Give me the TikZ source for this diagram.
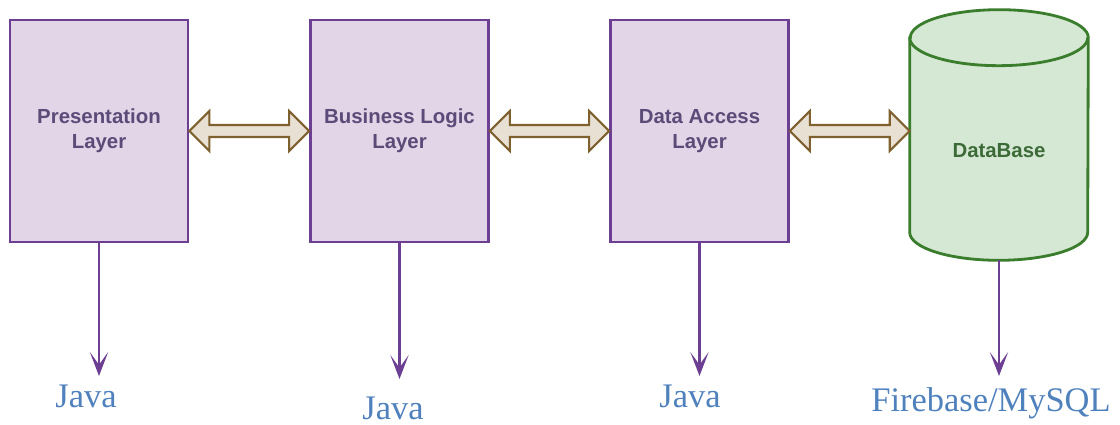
\documentclass[tikz,border=0pt]{standalone}
\usepackage{fontspec}
\setmainfont{Liberation Serif}
\setsansfont{Liberation Sans}
\usepackage{tikz}
\usetikzlibrary{arrows.meta}
\usetikzlibrary{calc}

\definecolor{layerfill}{HTML}{E1D5E7}
\definecolor{layerline}{HTML}{6C3F92}
\definecolor{layertext}{HTML}{5E4A78}
\definecolor{dbfill}{HTML}{D5E8D4}
\definecolor{dbline}{HTML}{3A7D2C}
\definecolor{dbtext}{HTML}{3D6B38}
\definecolor{linkfill}{HTML}{E8E0D2}
\definecolor{linkline}{HTML}{7F6130}
\definecolor{techblue}{HTML}{4F81BD}

\tikzset{
  layer/.style={rectangle, draw=layerline, fill=layerfill, line width=2pt,
    minimum width=4.45cm, minimum height=5.55cm, align=center,
    text=layertext, font=\sffamily\bfseries\fontsize{14.5}{18}\selectfont},
  store/.style={rectangle, minimum width=4.45cm, minimum height=6.25cm},
  storetext/.style={text=dbtext, font=\sffamily\bfseries\fontsize{14.5}{18}\selectfont},
  link/.style={draw=linkline, fill=linkfill, line width=1.5pt, line join=miter},
  down/.style={draw=layerline, line width=1.6pt,
    -{Stealth[length=17pt,width=13pt,inset=9pt]}},
  tech/.style={text=techblue, font=\fontsize{24.5}{28}\selectfont}
}

\begin{document}
\begin{tikzpicture}[x=0.025cm,y=-0.025cm]
\useasboundingbox (0,0) rectangle (1120,425);
%%% Draws layers
% draws boxes
\node[layer] (pres) at (99,131) {Presentation\\Layer};
\node[layer] (logic) at (399.5,131) {Business Logic\\Layer};
\node[layer] (access) at (699.5,131) {Data Access\\Layer};
% draws database
\node[store] (db) at (999,135) {};
\draw[draw=dbline, fill=dbfill, line width=2pt]
  ($(db.north west)+(0,28)$) -- ($(db.south west)+(0,-28)$)
  arc[start angle=180, end angle=0, x radius=89, y radius=28]
  -- ($(db.north east)+(0,28)$)
  arc[start angle=360, end angle=180, x radius=89, y radius=28] -- cycle;
\draw[draw=dbline, line width=2pt] ($(db.north west)+(0,28)$)
  arc[start angle=180, end angle=0, x radius=89, y radius=28];
\node[storetext] (dbname) at (999,151) {DataBase};
% draws double arrows
\draw[link] (pres.east) -- ++(20,-20) -- ++(0,14) -- ($(logic.west)+(-20,-6)$)
  -- ++(0,-14) -- (logic.west) -- ++(-20,20) -- ++(0,-14)
  -- ($(pres.east)+(20,6)$) -- ++(0,14) -- cycle;
\draw[link] (logic.east) -- ++(20,-20) -- ++(0,14) -- ($(access.west)+(-20,-6)$)
  -- ++(0,-14) -- (access.west) -- ++(-20,20) -- ++(0,-14)
  -- ($(logic.east)+(20,6)$) -- ++(0,14) -- cycle;
\draw[link] (access.east) -- ++(20,-20) -- ++(0,14) -- ($(db.west)+(-20,-10)$)
  -- ++(0,-14) -- ($(db.west)+(0,-4)$) -- ++(-20,20) -- ++(0,-14)
  -- ($(access.east)+(20,6)$) -- ++(0,14) -- cycle;
%%% Draws technologies
% labels
\node[tech] (j1) at (86,396) {Java};
\node[tech] (j2) at (393,408) {Java};
\node[tech] (j3) at (690,396) {Java};
\node[tech] (fb) at (991,403) {Firebase/MySQL};
% draws arrows
\draw[down] (pres.south) -- (pres.south |- 0,376);
\draw[down] (logic.south) -- (logic.south |- 0,379);
\draw[down] (access.south) -- (access.south |- 0,376);
\draw[down] (db.south) -- (db.south |- 0,376);
\end{tikzpicture}
\end{document}
